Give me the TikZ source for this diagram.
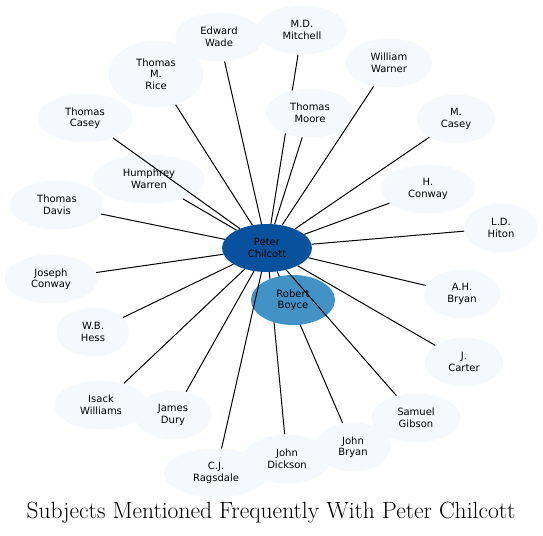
\documentclass[tikz,border=0pt]{standalone}
\usepackage{fontspec}
\newfontfamily\dejavu{DejaVu Sans}
\usetikzlibrary{shapes.geometric,backgrounds}
\definecolor{hubblue}{HTML}{08519C}
\definecolor{boyceblue}{HTML}{4292C6}
\definecolor{paleblue}{HTML}{F5F9FE}
\tikzset{
  person/.style={ellipse,fill=paleblue,minimum width=90pt,minimum height=49pt,inner sep=0pt,
    align=center,font=\dejavu\fontsize{10}{11.5}\selectfont},
  link/.style={line width=1pt}
}
\begin{document}
\begin{tikzpicture}[x=1pt,y=-1pt]
\useasboundingbox (0,0) rectangle (543,535);

\node[person,minimum width=88pt] (wade) at (219,37) {Edward\\Wade};
\node[person,minimum width=90pt] (mitchell) at (302,30) {M.D.\\Mitchell};
\node[person,minimum width=95pt,minimum height=67pt] (rice) at (156,74) {Thomas\\M.\\Rice};
\node[person,minimum width=87pt] (warner) at (389,63) {William\\Warner};
\node[person,minimum width=88pt] (moore) at (310,113) {Thomas\\Moore};
\node[person,minimum width=95pt] (tcasey) at (85,118) {Thomas\\Casey};
\node[person,minimum width=78pt] (mcasey) at (456,119) {M.\\Casey};
\node[person,minimum width=112pt] (warren) at (149,179) {Humphrey\\Warren};
\node[person,minimum width=94pt] (hconway) at (428,189) {H.\\Conway};
\node[person,minimum width=94pt] (davis) at (57,205) {Thomas\\Davis};
\node[person,minimum width=74pt] (hiton) at (501,228) {L.D.\\Hiton};
\node[person,minimum width=93pt] (jconway) at (51,279) {Joseph\\Conway};
\node[person,minimum width=76pt] (abryan) at (462,294) {A.H.\\Bryan};
\node[person,minimum width=73pt] (hess) at (93,332) {W.B.\\Hess};
\node[person,minimum width=78pt] (carter) at (464,362) {J.\\Carter};
\node[person,minimum width=94pt] (williams) at (101,405) {Isack\\Williams};
\node[person,minimum width=77pt] (dury) at (173,415) {James\\Dury};
\node[person,minimum width=90pt] (gibson) at (416,418) {Samuel\\Gibson};
\node[person,minimum width=75pt] (jbryan) at (353,447) {John\\Bryan};
\node[person,minimum width=88pt] (dickson) at (287,459) {John\\Dickson};
\node[person,minimum width=104pt] (ragsdale) at (216,473) {C.J.\\Ragsdale};

\node[person,fill=boyceblue,minimum width=84pt,minimum height=50pt] (boyce) at (293,300) {Robert\\Boyce};
\node[person,fill=hubblue,minimum width=90pt,minimum height=48pt] (peter) at (267,248) {Peter\\Chilcott};

\begin{scope}[on background layer]
\draw[link] (peter) -- (mitchell);
\draw[link] (peter) -- (dickson);
\draw[link] (peter) -- (jbryan);
\end{scope}

\draw[link] (peter) -- (wade);
\draw[link] (peter) -- (rice);
\draw[link] (peter) -- (warner);
\draw[link] (peter) -- (moore);
\draw[link] (peter) -- (tcasey);
\draw[link] (peter) -- (mcasey);
\draw[link] (peter) -- (warren);
\draw[link] (peter) -- (hconway);
\draw[link] (peter) -- (davis);
\draw[link] (peter) -- (hiton);
\draw[link] (peter) -- (jconway);
\draw[link] (peter) -- (abryan);
\draw[link] (peter) -- (hess);
\draw[link] (peter) -- (carter);
\draw[link] (peter) -- (williams);
\draw[link] (peter) -- (dury);
\draw[link] (peter) -- (gibson);
\draw[link] (peter) -- (ragsdale);

\node[font=\fontsize{23.5}{27}\selectfont] (title) at (271,513) {Subjects Mentioned Frequently With Peter Chilcott};
\end{tikzpicture}
\end{document}
